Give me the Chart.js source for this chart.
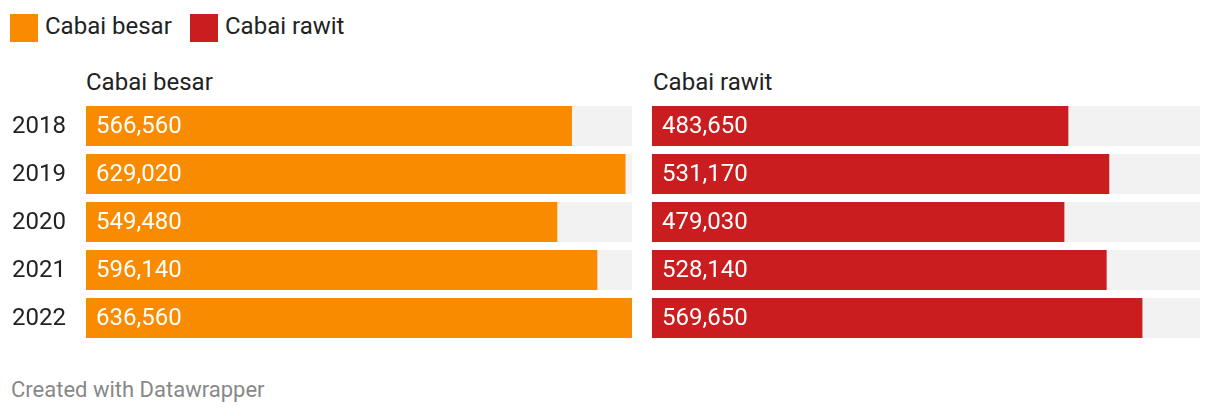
<!DOCTYPE html>
<html>
<head>
<meta charset="utf-8">
<script src="https://cdn.jsdelivr.net/npm/chart.js@4/dist/chart.umd.min.js"></script>
<style>
    body { margin: 0; background: #fff; font-family: Roboto, sans-serif; color: #222; }
    #wrap { position: relative; width: 1220px; height: 416px; overflow: hidden; }
    .txt { position: absolute; white-space: nowrap; font-size: 24px; line-height: 24px; }
    .sw { position: absolute; width: 28px; height: 28px; }
    .cv { position: absolute; }
    #foot { font-size: 22px; line-height: 22px; color: #888; }
</style>
</head>
<body>
<div id="wrap">
    <div class="sw" style="left:10px;top:14px;background:#f98b00"></div>
    <div class="txt" style="left:45px;top:14px">Cabai besar</div>
    <div class="sw" style="left:190px;top:14px;background:#c91d1f"></div>
    <div class="txt" style="left:225px;top:14px">Cabai rawit</div>

    <div class="txt" style="left:86px;top:70px">Cabai besar</div>
    <div class="txt" style="left:653px;top:70px">Cabai rawit</div>

    <div class="cv" style="left:0px;top:102px;width:632px;height:240px"><canvas id="leftChart"></canvas></div>
    <div class="cv" style="left:652px;top:102px;width:548px;height:240px"><canvas id="rightChart"></canvas></div>

    <div class="txt" id="foot" style="left:11px;top:379px">Created with Datawrapper</div>
</div>
<script>
const years = ['2018', '2019', '2020', '2021', '2022'];
const cabaiBesar = [566560, 629020, 549480, 596140, 636560];
const cabaiRawit = [483650, 531170, 479030, 528140, 569650];

const scaleMax = Math.max(...cabaiBesar, ...cabaiRawit);

// value labels inside the bars, year labels at the far left
const barText = {
    id: 'barText',
    afterDatasetsDraw(chart, args, opts) {
        const ctx = chart.ctx;
        const meta = chart.getDatasetMeta(0);
        const x0 = chart.scales.x.getPixelForValue(0);
        ctx.save();
        ctx.font = '24px Roboto';
        ctx.textAlign = 'left';
        ctx.textBaseline = 'middle';
        meta.data.forEach((bar, i) => {
            const v = chart.data.datasets[0].data[i];
            ctx.fillStyle = '#ffffff';
            ctx.fillText(v.toLocaleString('en-US'), x0 + 10, bar.y + 1);
            if (opts.years) {
                ctx.fillStyle = '#222';
                ctx.fillText(chart.data.labels[i], 12, bar.y + 1);
            }
        });
        ctx.restore();
    }
};

function makeChart(id, values, color, showYears) {
    return new Chart(document.getElementById(id), {
        type: 'bar',
        data: {
            labels: years,
            datasets: [
                { data: values, backgroundColor: color },
                { data: years.map(() => scaleMax), backgroundColor: '#f2f2f2' }
            ]
        },
        options: {
            indexAxis: 'y',
            responsive: true,
            maintainAspectRatio: false,
            animation: false,
            layout: { padding: { left: showYears ? 86 : 0, right: 0, top: 0, bottom: 0 } },
            datasets: { bar: { grouped: false, barPercentage: 1, categoryPercentage: 40 / 48, borderWidth: 0 } },
            plugins: { legend: { display: false }, tooltip: { enabled: false }, barText: { years: showYears } },
            scales: {
                x: { display: false, min: 0, max: scaleMax },
                y: { display: false }
            }
        },
        plugins: [barText]
    });
}

makeChart('leftChart', cabaiBesar, '#f98b00', true);
makeChart('rightChart', cabaiRawit, '#c91d1f', false);
</script>
</body>
</html>
